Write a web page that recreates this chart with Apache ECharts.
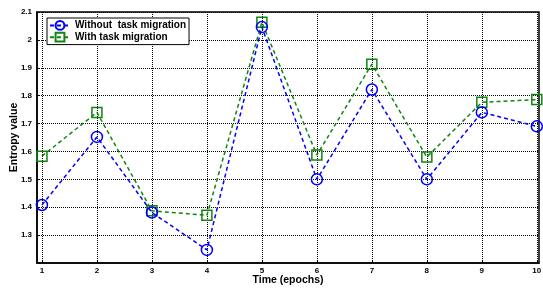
<!DOCTYPE html>
<html><head><meta charset="utf-8">
<script src="https://cdn.jsdelivr.net/npm/echarts@6/dist/echarts.min.js"></script>
<style>html,body{margin:0;padding:0;background:#fff}#c{width:543px;height:289px}</style>
</head><body><div id="c"></div>
<script>
const epochs = [1,2,3,4,5,6,7,8,9,10];
const withoutMigration = [1.408,1.652,1.381,1.247,2.046,1.50,1.822,1.50,1.74,1.69];
const withMigration = [1.583,1.74,1.387,1.371,2.063,1.587,1.913,1.58,1.776,1.786];
const xTicks = [1,2,3,4,5,6,7,8,9,10];
const yTicks = [1.3,1.4,1.5,1.6,1.7,1.8,1.9,2,2.1];
const FONT = '"Liberation Sans", Arial, sans-serif';
const chart = echarts.init(document.getElementById('c'), null, {renderer:'canvas'});
const pairs = a => epochs.map((x,i)=>[x,a[i]]);
chart.setOption({
  animation:false,
  backgroundColor:'#fff',
  grid:{left:37,right:4,top:12,bottom:26,show:true,borderColor:'#000',borderWidth:1.5,outerBoundsMode:'none',containLabel:false},
  legend:{
    left:47, top:18, orient:'vertical', itemGap:1,
    backgroundColor:'#fff', borderColor:'#000', borderWidth:1, padding:[2,3,2,2],
    itemWidth:20, itemHeight:11,
    textStyle:{fontFamily:FONT,fontWeight:'bold',fontSize:10,color:'#000'},
    data:['Without  task migration','With task migration']
  },
  xAxis:{
    type:'value', min:0.91, max:10.04,
    name:'Time (epochs)', nameLocation:'middle', nameGap:12, nameMoveOverlap:false,
    nameTextStyle:{fontFamily:FONT,fontWeight:'bold',fontSize:10.5,color:'#000'},
    axisLine:{show:true,lineStyle:{color:'#000',width:1.5}},
    axisTick:{show:true,inside:true,length:3,customValues:xTicks,lineStyle:{color:'#000'}},
    axisLabel:{customValues:xTicks,fontFamily:FONT,fontWeight:'bold',fontSize:8,color:'#000',margin:4,formatter:v=>String(v)},
    splitLine:{show:true,lineStyle:{color:'#000',type:[1,1],width:1}}
  },
  yAxis:{
    type:'value', min:1.2, max:2.1,
    name:'Entropy value', nameLocation:'middle', nameGap:17, nameRotate:90, nameMoveOverlap:false,
    nameTextStyle:{fontFamily:FONT,fontWeight:'bold',fontSize:10.5,color:'#000'},
    axisLine:{show:true,lineStyle:{color:'#000',width:1.5}},
    axisTick:{show:true,inside:true,length:3,customValues:yTicks,lineStyle:{color:'#000'}},
    axisLabel:{customValues:yTicks,fontFamily:FONT,fontWeight:'bold',fontSize:8,color:'#000',margin:5,formatter:v=>String(Math.round(v*10)/10)},
    splitLine:{show:true,lineStyle:{color:'#000',type:[1,1],width:1}}
  },
  series:[
    {name:'Without  task migration',type:'line',data:pairs(withoutMigration),
     symbol:'circle',symbolSize:11,showAllSymbol:true,
     lineStyle:{color:'#0000ff',width:1.5,type:[4,3]},
     itemStyle:{color:'rgba(0,0,0,0)',borderColor:'#0000ff',borderWidth:1.5},
     emphasis:{disabled:true},z:3},
    {name:'With task migration',type:'line',data:pairs(withMigration),
     symbol:'rect',symbolSize:10,showAllSymbol:true,
     lineStyle:{color:'#108510',width:1.5,type:[4,3]},
     itemStyle:{color:'rgba(0,0,0,0)',borderColor:'#108510',borderWidth:1.5},
     emphasis:{disabled:true},z:2}
  ]
});
</script></body></html>
